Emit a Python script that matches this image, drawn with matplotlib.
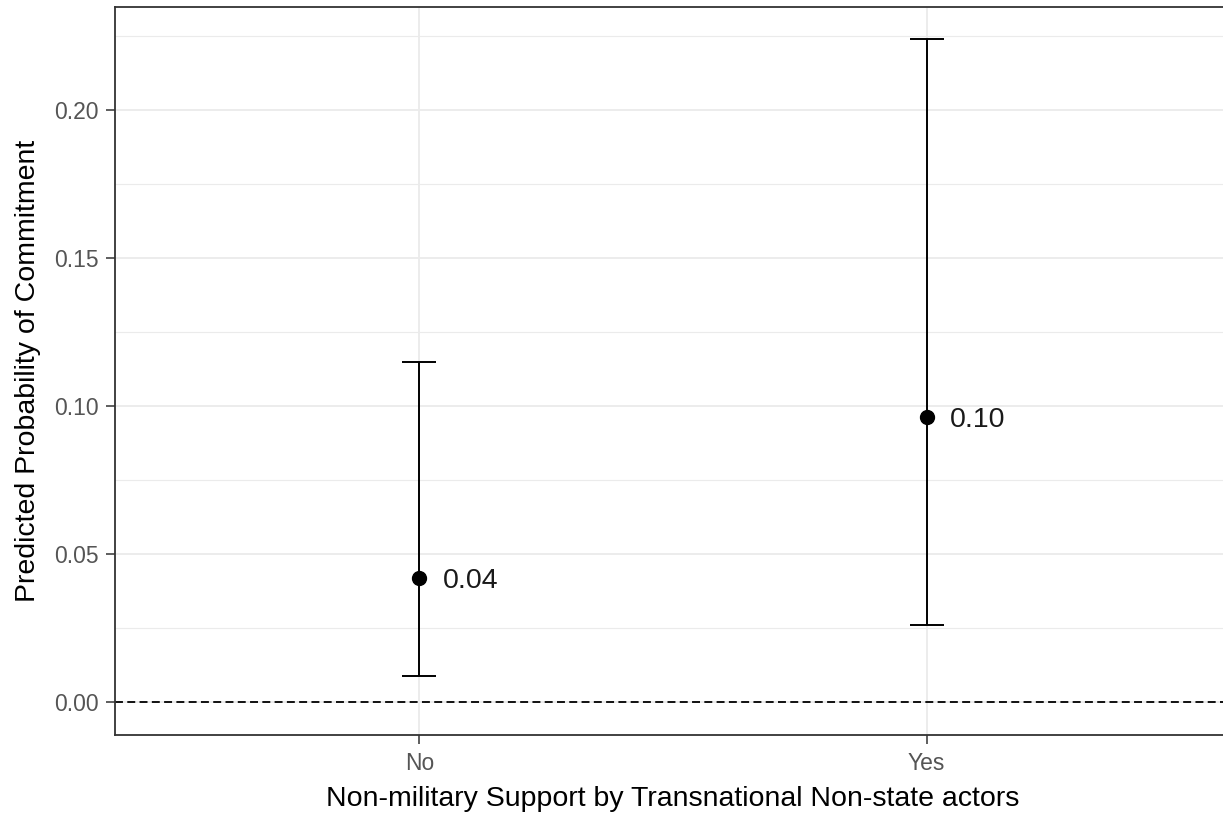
import numpy as np
import matplotlib
matplotlib.use("Agg")
import matplotlib.pyplot as plt

plt.rcParams['font.family'] = ['Liberation Sans', 'DejaVu Sans']

categories = ["No", "Yes"]
estimates = [0.0419, 0.0963]
lower = [0.0088, 0.0260]
upper = [0.1149, 0.2240]
labels = ["0.04", "0.10"]

fig = plt.figure(figsize=(12.23, 8.14), dpi=100)
# the panel runs slightly past the right edge of the image, as in the original
ax = fig.add_axes([0.094, 0.097, 0.9125, 0.8944])

x = np.arange(1, len(categories) + 1)
est = np.array(estimates)
yerr = [est - np.array(lower), np.array(upper) - est]

ax.axhline(0, color='black', linestyle=(0, (4.4, 2.4)), linewidth=1.3, zorder=2)
ax.errorbar(x, est, yerr=yerr, fmt='o', color='black', ecolor='black',
            markersize=10, elinewidth=1.4, capsize=12, capthick=1.4, zorder=3)
for xi, yi, lab in zip(x, est, labels):
    ax.annotate(lab, (xi, yi), xytext=(17, -2), textcoords='offset points',
                ha='left', va='center', fontsize=20.5, color='#1a1a1a')

ax.set_xlim(0.4, 2.6)
ax.set_ylim(-0.0112, 0.2348)
ax.set_xticks(x)
ax.set_xticklabels(categories)
ax.set_yticks([0.00, 0.05, 0.10, 0.15, 0.20])
ax.set_yticklabels(['0.00', '0.05', '0.10', '0.15', '0.20'])
ax.set_yticks([0.025, 0.075, 0.125, 0.175, 0.225], minor=True)

ax.grid(True, which='major', color='#ebebeb', linewidth=1.3, zorder=0)
ax.grid(True, which='minor', axis='y', color='#ebebeb', linewidth=0.8, zorder=0)
ax.set_axisbelow(True)

ax.tick_params(axis='both', which='major', labelsize=16.5, colors='#333333',
               labelcolor='#555555', length=6.5, width=1.1, pad=5.5)
ax.tick_params(axis='y', which='minor', length=0)
for sp in ax.spines.values():
    sp.set_color('#333333')
    sp.set_linewidth(1.3)

ax.set_xlabel('Non-military Support by Transnational Non-state actors', fontsize=20.5, labelpad=8)
ax.set_ylabel('Predicted Probability of Commitment', fontsize=20.5, labelpad=9)

fig.savefig('out.png', dpi=100)
